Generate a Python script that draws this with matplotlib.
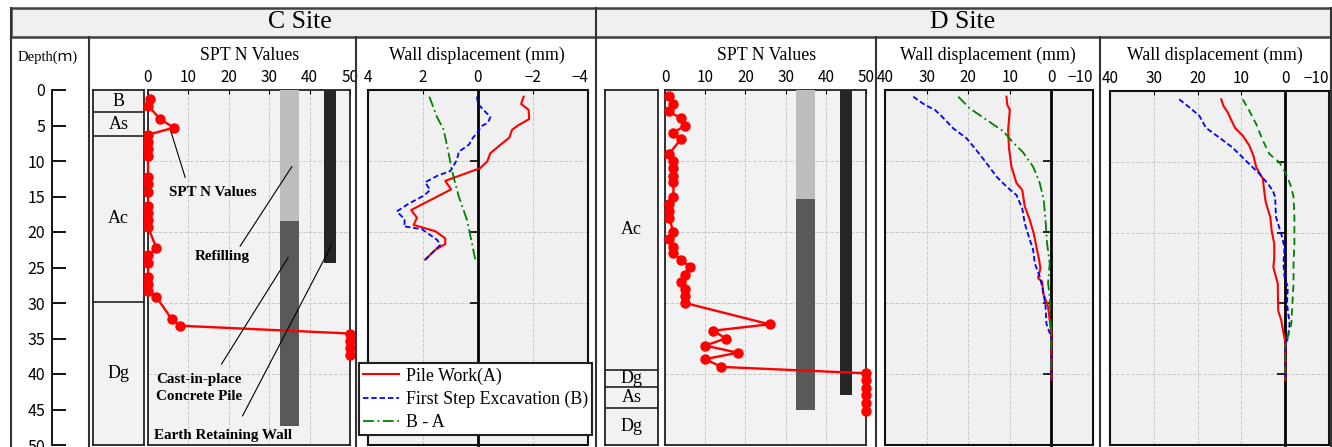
import matplotlib
matplotlib.use("Agg")
import matplotlib.pyplot as plt
from matplotlib.lines import Line2D
from matplotlib.patches import Rectangle

W, H = 1332, 447
SERIF = ['Liberation Serif', 'DejaVu Serif']
SANS = ['Noto Sans CJK JP', 'DejaVu Sans']
SERIF_JP = ['Liberation Serif', 'Noto Sans CJK JP']

# soil layers (top depth of each layer, m)
c_layer_tops = [0, 3.1, 6.5, 29.8]
c_layer_names = ['B', 'As', 'Ac', 'Dg']
d_layer_tops = [0, 39.4, 41.8, 44.8]
d_layer_names = ['Ac', 'Dg', 'As', 'Dg']

# SPT N values
c_spt_depth = [1.3, 2.25, 4.1, 5.3, 6.3, 7.3, 8.3, 9.3, 12.3, 13.3, 14.3, 16.3, 17.3, 18.3,
               19.3, 22.3, 23.3, 24.3, 26.3, 27.3, 28.3, 29.1, 32.3, 33.2, 34.3, 35.3, 36.3, 37.3]
c_spt_n = [0.6, 0.1, 3.0, 6.4, 0, 0, 0, 0, 0, 0, 0, 0, 0, 0,
           0, 2.1, 0, 0, 0, 0, 0, 2.0, 5.9, 8.0, 50, 50, 50, 50]
d_spt_depth = [0.9, 2.0, 3.0, 4.0, 5.0, 6.0, 6.9, 9.0, 10.0, 11.0, 12.1, 13.0, 15.0, 16.0,
               17.0, 18.0, 20.0, 21.0, 22.1, 23.0, 23.9, 24.9, 26.0, 27.0, 28.0, 29.0, 30.0,
               33.0, 33.9, 35.0, 36.0, 37.0, 37.9, 39.0, 39.9, 40.9, 42.0, 43.0, 44.1, 45.2]
d_spt_n = [1.0, 2.1, 0.9, 4.0, 5.0, 2.1, 4.0, 1.0, 2.1, 2.1, 2.1, 2.1, 2.1, 1.0,
           1.0, 1.0, 2.1, 1.0, 2.1, 2.1, 4.0, 6.2, 5.0, 4.0, 5.0, 5.0, 5.0,
           26.0, 12.0, 15.1, 10.0, 18.1, 10.0, 14.0, 50, 50, 50, 50, 50, 50]

# structures drawn in SPT panels: refilling, cast-in-place pile, retaining wall
bar_left = [32.7, 32.7, 43.6]
bar_right = [37.4, 37.4, 46.5]
bar_colors = ['#bdbdbd', '#595959', '#262626']
c_bar_top = [0, 18.4, 0]
c_bar_bottom = [18.4, 47.3, 24.3]
d_bar_top = [0, 15.4, 0]
d_bar_bottom = [15.4, 45.0, 43.0]

# wall displacement, C site (mm)
c_a_depth = [0.94, 1.97, 2.8, 4.1, 5.0, 5.6, 6.7, 7.7, 8.9, 10.1, 11.0, 12.8, 14.0, 16.9,
             18.0, 19.0, 19.9, 20.9, 21.7, 22.5, 23.9]
c_a_disp = [-1.66, -1.57, -1.84, -1.86, -1.45, -1.24, -1.14, -0.82, -0.45, -0.33, -0.08, 1.19,
            0.98, 2.43, 2.22, 2.34, 1.55, 1.19, 1.19, 1.55, 1.92]
c_b_depth = [0.94, 1.97, 2.8, 3.8, 4.6, 5.1, 6.1, 6.7, 7.7, 8.7, 9.8, 11.4, 12.1, 13.0, 14.1,
             14.9, 16.0, 17.1, 18.2, 18.8, 19.2, 19.6, 21.1, 21.8, 22.5, 23.9]
c_b_disp = [0.04, 0, -0.2, -0.45, -0.36, -0.12, 0.04, 0.18, 0.33, 0.7, 0.76, 1.0, 1.49, 1.92,
            1.74, 1.98, 2.52, 2.95, 2.67, 2.67, 2.7, 2.04, 1.49, 1.37, 1.55, 1.92]
c_ba_depth = [0.94, 3.8, 5.6, 8.5, 11.3, 15.0, 18.3, 21.6, 23.9]
c_ba_disp = [1.77, 1.49, 1.25, 1.09, 0.95, 0.7, 0.4, 0.22, 0.1]

# wall displacement, D site, first panel (mm)
d1_a_depth = [0.94, 2.1, 2.8, 5.6, 8.2, 10.8, 13.1, 14.1, 16.4, 18.3, 20.2, 22.1, 23.9, 25.1,
              26.5, 27.0, 28.6, 30.5, 32.4, 34.3, 40.8]
d1_a_disp = [10.8, 10.6, 10.0, 10.4, 10.2, 9.6, 8.4, 7.0, 6.4, 5.2, 4.25, 3.6, 2.96, 2.64,
             3.2, 2.2, 2.0, 0.8, 0.4, 0, 0]
d1_b_depth = [0.94, 2.1, 2.8, 3.8, 5.4, 6.8, 8.5, 10.3, 12.2, 13.6, 14.8, 16.7, 18.8, 20.7,
              22.5, 24.4, 26.3, 28.2, 30.5, 32.9, 34.0, 34.7, 40.8]
d1_b_disp = [33.2, 30.4, 28.0, 26.2, 23.6, 20.4, 18.0, 15.6, 13.2, 10.8, 8.4, 7.0, 6.4, 5.4,
             4.4, 4.0, 2.8, 2.0, 1.4, 1.2, 0.56, 0, 0]
d1_ba_depth = [0.94, 2.6, 4.2, 5.8, 7.4, 8.8, 10.8, 13.1, 15.5, 18.8, 21.6, 24.4, 27.2, 29.1,
               33.8, 40.8]
d1_ba_disp = [22.4, 19.6, 15.6, 11.6, 9.2, 6.8, 4.4, 2.8, 1.84, 1.36, 1.04, 0.4, 0.8, 0.4,
              0.1, 0]

# wall displacement, D site, second panel (mm)
d2_a_depth = [1.17, 2.1, 3.05, 4.0, 5.26, 6.3, 7.7, 9.15, 10.8, 12.4, 14.1, 15.5, 16.7, 17.8,
              19.7, 21.6, 23.5, 24.9, 27.2, 31.0, 32.4, 33.8, 35.4, 40.8]
d2_a_disp = [14.6, 14.1, 13.1, 12.4, 11.4, 9.7, 8.2, 7.25, 6.6, 5.1, 4.8, 4.5, 3.97, 3.4,
             3.1, 2.5, 2.5, 2.7, 1.7, 1.6, 0.9, 0.5, 0, 0]
d2_b_depth = [1.17, 2.3, 3.5, 5.2, 6.6, 8.0, 9.4, 10.8, 11.7, 13.1, 14.1, 15.0, 17.8, 20.2,
              22.1, 24.4, 26.3, 27.7, 30.0, 32.9, 35.0, 35.7, 40.8]
d2_b_disp = [24.2, 21.9, 19.6, 18.1, 15.0, 12.0, 9.7, 7.4, 5.9, 3.97, 2.8, 2.3, 2.1, 0.9,
             0.15, 0.4, 0.15, -0.6, -0.4, -1.0, -0.6, 0, 0]
d2_ba_depth = [1.17, 2.8, 4.7, 7.0, 8.9, 10.1, 11.7, 13.6, 15.0, 17.8, 21.6, 24.4, 27.2, 30.5,
               32.9, 34.7, 35.9, 40.8]
d2_ba_disp = [9.7, 8.2, 6.6, 5.1, 3.6, 1.3, -0.2, -1.4, -1.9, -2.1, -2.1, -1.9, -1.9, -1.6,
              -1.4, -0.6, 0, 0]

legend_labels = ['Pile Work(A)', 'First Step Excavation (B)', 'B - A']
depth_ticks = list(range(0, 51, 5))

fig = plt.figure(figsize=(W / 100, H / 100), dpi=100)


def rect(x0, y0, x1, y1):
    return [x0 / W, 1 - y1 / H, (x1 - x0) / W, (y1 - y0) / H]


def fig_line(x0, y0, x1, y1):
    fig.add_artist(Line2D([x0 / W, x1 / W], [1 - y0 / H, 1 - y1 / H],
                          transform=fig.transFigure, color='#333333', lw=1.5))


def fig_text(x, y, s, **kw):
    fig.text(x / W, 1 - y / H, s, ha='center', va='center', **kw)


# header and frame
fig.add_artist(Rectangle((11 / W, 1 - 37 / H), (1331 - 11) / W, 29 / H, transform=fig.transFigure,
                         facecolor='#f0f0f0', edgecolor='#404040', lw=1.8))
for x in [11, 89, 356, 596, 876, 1100, 1331]:
    fig_line(x, 37 if x not in (11, 596, 1331) else 8, x, 447)
fig_text(300, 22, 'C Site', family=SERIF, fontsize=18.5)
fig_text(963, 22, 'D Site', family=SERIF, fontsize=18.5)

# depth axis
ax = fig.add_axes(rect(52, 90, 80, 445))
ax.set_ylim(50, 0)
ax.set_yticks(depth_ticks)
ax.set_xticks([])
ax.patch.set_visible(False)
for s in ['top', 'right', 'bottom']:
    ax.spines[s].set_visible(False)
ax.spines['left'].set_linewidth(1.3)
ax.tick_params(axis='y', direction='in', length=10, width=1.3, pad=5, labelsize=11.5)
for lbl in ax.get_yticklabels():
    lbl.set_family(SANS)
fig_text(48, 57, 'Depth(ｍ)', family=SERIF_JP, fontsize=10.5)


def soil_column(pos, tops, names):
    ax = fig.add_axes(rect(*pos))
    ax.set_facecolor('#f2f2f2')
    ax.set_xlim(0, 1)
    ax.set_ylim(50, 0)
    ax.set_xticks([])
    ax.set_yticks([])
    for sp in ax.spines.values():
        sp.set_linewidth(1.3)
        sp.set_color('#222222')
    for t in tops[1:]:
        ax.axhline(t, color='#333333', lw=1.3)
    bottoms = tops[1:] + [50]
    for t, b, name in zip(tops, bottoms, names):
        ax.text(0.5, (t + b) / 2, name, ha='center', va='center', family=SERIF, fontsize=13)


def spt_panel(pos, n, depth, tops, bottoms):
    ax = fig.add_axes(rect(*pos))
    ax.set_facecolor('#f2f2f2')
    ax.set_xlim(0, 50)
    ax.set_ylim(50, 0)
    ax.set_xticks(range(0, 51, 10))
    ax.set_yticks(range(10, 50, 10))
    ax.grid(True, color='#c8c8c8', ls='--', lw=0.7)
    ax.set_axisbelow(True)
    ax.xaxis.tick_top()
    ax.tick_params(axis='x', direction='in', length=3, pad=3, labelsize=11)
    ax.tick_params(axis='y', length=0, labelleft=False)
    for lbl in ax.get_xticklabels():
        lbl.set_family(SANS)
    for sp in ax.spines.values():
        sp.set_linewidth(1.3)
        sp.set_color('#222222')
    for l, r, t, b, c in zip(bar_left, bar_right, tops, bottoms, bar_colors):
        ax.bar((l + r) / 2, b - t, width=r - l, bottom=t, color=c, zorder=3)
    ax.plot(n, depth, '-o', color='red', lw=1.7, ms=6.5, clip_on=False, zorder=5)
    return ax


def wall_panel(pos, xlim, xticks, a, b, ba, ba_style):
    ax = fig.add_axes(rect(*pos))
    ax.set_facecolor('#f0f0f0')
    ax.set_xlim(*xlim)
    ax.set_ylim(50, 0)
    ax.set_xticks(xticks)
    ax.set_yticks([10, 20, 30, 40])
    ax.grid(True, color='#c8c8c8', ls='--', lw=0.7)
    ax.set_axisbelow(True)
    ax.xaxis.tick_top()
    for s in ['top', 'right', 'bottom']:
        ax.spines[s].set_visible(False)
    ax.spines['left'].set_position(('data', 0))
    ax.spines['left'].set_linewidth(2)
    ax.spines['left'].set_zorder(4)
    ax.add_patch(Rectangle((0, 0), 1, 1, transform=ax.transAxes, fill=False, lw=1.5,
                           ec='#111111', clip_on=False, zorder=6))
    ax.tick_params(axis='x', direction='in', length=3, pad=3, labelsize=11)
    ax.tick_params(axis='y', direction='out', length=6, width=1.2, labelleft=False)
    labels = ax.get_xticklabels()
    for lbl in labels:
        lbl.set_family(SANS)
    labels[-1].set_horizontalalignment('right')
    h1, = ax.plot(a[1], a[0], color='red', lw=1.5, zorder=5)
    h2, = ax.plot(b[1], b[0], color='blue', lw=1.3, ls=(0, (3, 1.6)), zorder=5)
    h3, = ax.plot(ba[1], ba[0], color='green', lw=1.3, ls=ba_style, zorder=5)
    return ax, [h1, h2, h3]


# C site
soil_column((93, 90, 144, 445), c_layer_tops, c_layer_names)
ax_cs = spt_panel((148, 90, 350, 445), c_spt_n, c_spt_depth, c_bar_top, c_bar_bottom)
fig_text(250, 55, 'SPT N Values', family=SERIF, fontsize=12.8)

bold = dict(family=SERIF, fontsize=10.9, fontweight='bold', ha='center', va='center', zorder=7)
line = dict(color='black', lw=0.8, zorder=7)
ax_cs.text(16.1, 14.5, 'SPT N Values', **bold)
ax_cs.plot([5.7, 9.2], [5.9, 12.3], **line)
ax_cs.text(18.4, 23.5, 'Refilling', **bold)
ax_cs.plot([35.6, 22.8], [10.8, 22.0], **line)
ax_cs.text(12.6, 42.0, 'Cast-in-place\nConcrete Pile', linespacing=1.4, **bold)
ax_cs.plot([34.7, 18.2], [23.6, 38.6], **line)
ax_cs.text(18.6, 48.7, 'Earth Retaining Wall', **bold)
ax_cs.plot([45.3, 23.4], [22.0, 45.9], **line)

ax_cw, handles = wall_panel((368, 90, 588, 445), (4, -4), [4, 2, 0, -2, -4],
                            (c_a_depth, c_a_disp), (c_b_depth, c_b_disp),
                            (c_ba_depth, c_ba_disp), (0, (6, 2, 1, 2)))
fig_text(477, 55, 'Wall displacement (mm)', family=SERIF, fontsize=12.8)
leg = fig.legend(handles, legend_labels, loc='upper left', bbox_to_anchor=(359 / W, 1 - 363 / H),
                 bbox_transform=fig.transFigure, prop={'family': SERIF, 'size': 12.9},
                 frameon=True, fancybox=False, framealpha=1, edgecolor='#222222',
                 handlelength=2.0, handletextpad=0.35, borderpad=0.25, labelspacing=0.33,
                 borderaxespad=0)
leg.get_frame().set_linewidth(1.5)

# D site
soil_column((605, 90, 658, 445), d_layer_tops, d_layer_names)
spt_panel((665, 90, 866, 445), d_spt_n, d_spt_depth, d_bar_top, d_bar_bottom)
fig_text(767, 55, 'SPT N Values', family=SERIF, fontsize=12.8)

wall_panel((885, 90, 1093, 445), (40, -10), [40, 30, 20, 10, 0, -10],
           (d1_a_depth, d1_a_disp), (d1_b_depth, d1_b_disp),
           (d1_ba_depth, d1_ba_disp), (0, (6, 2, 1, 2)))
fig_text(988, 55, 'Wall displacement (mm)', family=SERIF, fontsize=12.8)

wall_panel((1110, 91, 1329, 445), (40, -10), [40, 30, 20, 10, 0, -10],
           (d2_a_depth, d2_a_disp), (d2_b_depth, d2_b_disp),
           (d2_ba_depth, d2_ba_disp), (0, (4, 2.5)))
fig_text(1215, 55, 'Wall displacement (mm)', family=SERIF, fontsize=12.8)

fig.savefig('out.png', dpi=100)
